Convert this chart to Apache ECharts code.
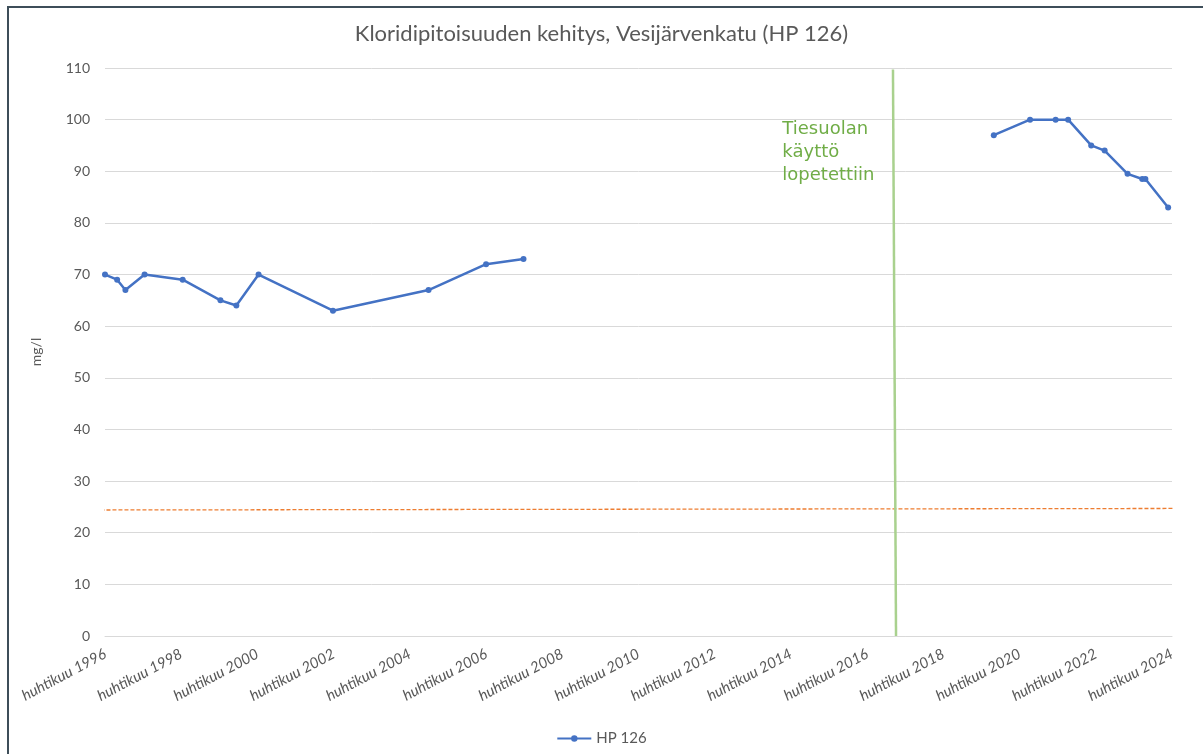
<!DOCTYPE html>
<html>
<head>
<meta charset="utf-8">
<title>Kloridipitoisuuden kehitys</title>
<script src="https://cdn.jsdelivr.net/npm/echarts@6.0.0/dist/echarts.min.js"></script>
<style>
    html, body { margin: 0; padding: 0; background: #fff; }
    #frame { position: absolute; left: 7px; top: 6px; width: 1300px; height: 900px;
             border-left: 2px solid #3e4e59; border-top: 2px solid #3e4e59; pointer-events: none; }
    #chart { width: 1203px; height: 754px; }
</style>
</head>
<body>
<div id="chart"></div>
<div id="frame"></div>
<script>
// ── Data (dates, values in mg/l) ──
const hp126Dates = [
    '1996-04-01', '1996-07-26', '1996-10-14', '1997-04-15', '1998-04-15', '1999-04-12',
    '1999-09-12', '2000-04-12', '2002-03-25', '2004-09-28', '2006-04-01', '2007-03-25',
    '2013-01-01', // gap, no samples
    '2019-07-28', '2020-07-10', '2021-03-12', '2021-07-10', '2022-02-18', '2022-06-25',
    '2023-02-01', '2023-06-20', '2023-07-20', '2024-02-25'
];
const hp126Values = [
    70, 69, 67, 70, 69, 65, 64, 70, 63, 67, 72, 73,
    null,
    97, 100, 100, 100, 95, 94, 89.5, 88.5, 88.5, 83
];

// road salt stopped (green vertical marker)
const saltStopDates = ['2016-12-05', '2017-01-04'];
const saltStopValues = [109.7, 0];
const saltStopText = ['Tiesuolan', 'käyttö', 'lopetettiin'];

// orange dashed reference level
const limitDates = ['1995-10-25', '2024-05-10'];
const limitValues = [24.4, 24.7];

const axisMonths = 336;   // huhtikuu 1996 .. huhtikuu 2024
const tickStepMonths = 24;

// months from April 1996 (x axis works in months so 2-year ticks land on April)
function toMonths(s) {
    const [y, m, d] = s.split('-').map(Number);
    return (y - 1996) * 12 + (m - 4) + ((d || 1) - 1) / 30.5;
}

const pairs = (dates, values) => dates.map((d, i) => [toMonths(d), values[i]]);

const grey = '#595959';
const chart = echarts.init(document.getElementById('chart'), null, { renderer: 'canvas' });

chart.setOption({
    animation: false,
    backgroundColor: '#fff',
    title: {
        text: 'Kloridipitoisuuden kehitys, Vesijärvenkatu (HP 126)',
        left: 'center',
        top: 18,
        textStyle: { color: grey, fontFamily: 'Lato', fontSize: 22, fontWeight: 'normal' }
    },
    legend: {
        data: ['HP 126'],
        bottom: 3,
        left: 'center',
        itemWidth: 34,
        itemHeight: 8,
        itemGap: 6,
        textStyle: { color: grey, fontFamily: 'Lato', fontSize: 15 }
    },
    grid: { left: 105, right: 31, top: 68, bottom: 118 },
    xAxis: {
        type: 'value',
        min: 0,
        max: axisMonths,
        interval: tickStepMonths,
        splitLine: { show: false },
        axisTick: { show: false },
        axisLine: { show: true, lineStyle: { color: '#d9d9d9' } },
        axisLabel: {
            rotate: 28,
            margin: 17,
            color: grey,
            fontFamily: 'Lato',
            fontStyle: 'italic',
            fontSize: 15,
            formatter: v => 'huhtikuu ' + (1996 + v / 12)
        }
    },
    yAxis: {
        type: 'value',
        min: 0,
        max: 110,
        interval: 10,
        name: 'mg/l',
        nameLocation: 'middle',
        nameRotate: 90,
        nameGap: 62,
        nameTextStyle: { color: grey, fontFamily: 'Lato', fontSize: 14 },
        axisLine: { show: false },
        axisTick: { show: false },
        axisLabel: { color: grey, fontFamily: 'Lato', fontSize: 14, margin: 15 },
        splitLine: { lineStyle: { color: '#d9d9d9', width: 1 } }
    },
    series: [
        {
            name: 'limit',
            type: 'line',
            data: pairs(limitDates, limitValues),
            clip: false,
            symbol: 'none',
            silent: true,
            lineStyle: { color: '#ed7d31', width: 1.3, type: [4, 2] }
        },
        {
            name: 'salt stop',
            type: 'line',
            data: pairs(saltStopDates, saltStopValues),
            symbol: 'none',
            silent: true,
            lineStyle: { color: '#a9d18e', width: 2.5 },
            markPoint: {
                symbol: 'circle',
                symbolSize: 0,
                silent: true,
                data: [{
                    coord: [toMonths('2014-01-10'), 93.7],
                    label: {
                        show: true,
                        position: 'right',
                        distance: 0,
                        formatter: saltStopText.join('\n'),
                        color: '#70ad47',
                        fontFamily: 'DejaVu Sans',
                        fontSize: 18,
                        lineHeight: 23,
                        align: 'left'
                    }
                }]
            }
        },
        {
            name: 'HP 126',
            type: 'line',
            data: pairs(hp126Dates, hp126Values),
            connectNulls: false,
            symbol: 'circle',
            symbolSize: 6,
            itemStyle: { color: '#4472c4' },
            lineStyle: { color: '#4472c4', width: 2.5 }
        }
    ]
});
</script>
</body>
</html>
